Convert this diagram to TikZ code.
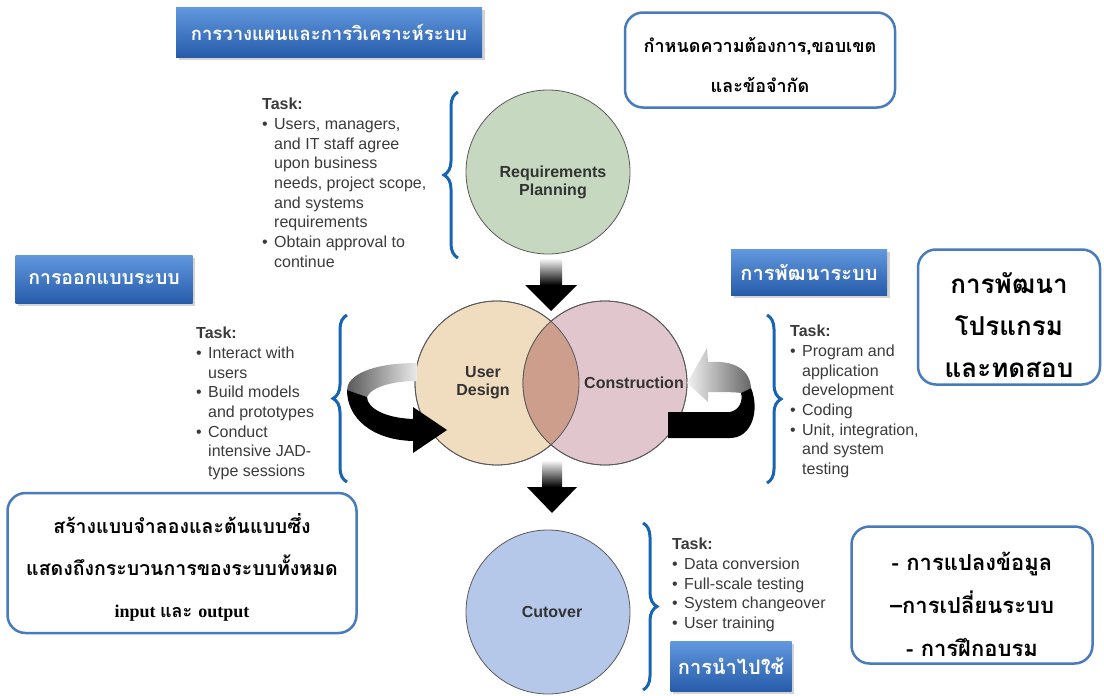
\documentclass[tikz,border=0pt]{standalone}
\usepackage{fontspec}
\setmainfont{Liberation Sans}
\newfontfamily\thaifont[Script=Thai]{Loma}
\newfontfamily\latinserif{Liberation Serif}
\usepackage{tikz}
\usetikzlibrary{arrows,%
                shapes,positioning,decorations.pathreplacing,shadows}

\definecolor{reqgreen}{RGB}{198,216,192}
\definecolor{udtan}{RGB}{240,220,190}
\definecolor{conpink}{RGB}{225,198,206}
\definecolor{lapbrown}{RGB}{205,158,140}
\definecolor{cutblue}{RGB}{182,200,234}
\definecolor{bracecol}{RGB}{22,100,180}
\definecolor{boxline}{RGB}{72,122,190}
\definecolor{tasktext}{RGB}{58,58,58}
\definecolor{lbltop}{RGB}{98,152,222}
\definecolor{lblbot}{RGB}{38,92,170}

\newcommand\tskb{\makebox[12pt][l]{\textbullet}}
\newcommand\tski{\hspace*{12pt}}

\begin{document}
\begin{tikzpicture}[x=1pt,y=-1pt,
  phase/.style={circle,draw=gray!70!black,line width=0.8pt,minimum size=164pt,inner sep=0pt},
  phasetext/.style={font=\fontsize{16}{18}\selectfont\bfseries,text=black!80,align=center},
  tasklist/.style={anchor=north west,inner sep=0pt,text=tasktext,align=left,font=\fontsize{16}{19.7}\selectfont},
  curly/.style={decorate,decoration={brace,amplitude=14pt},draw=bracecol,line width=3pt},
  thlabel/.style={top color=lbltop,bottom color=lblbot,drop shadow={opacity=0.35},text=white,inner sep=0pt,font=\thaifont\bfseries\fontsize{20}{24}\selectfont},
  thbox/.style={draw=boxline,line width=2.5pt,rounded corners=18pt,fill=white,inner sep=0pt},
  thtext/.style={align=center,inner sep=0pt,font=\thaifont\bfseries\fontsize{19.5}{42}\selectfont},
  bandgray/.style={left color=black!65,right color=black!8},
  bandblack/.style={fill=black}]
\useasboundingbox (0,0) rectangle (1104,696);

\node[phase,fill=reqgreen] (req) at (548,172) {};
\node[phase,fill=udtan] (ud) at (497,383) {};
\node[phase,fill=conpink] (con) at (605,383) {};
\node[phase,fill=cutblue] (cut) at (548,612) {};
\begin{scope}
\clip (ud.center) circle (82);
\fill[lapbrown] (con.center) circle (82);
\end{scope}
\draw[gray!70!black,line width=0.8pt] (ud.center) circle (82) (con.center) circle (82);

\node[phasetext] (reqlbl) at (553,182) {Requirements\\Planning};
\node[phasetext] (udlbl) at (483,383) {User\\Design};
\node[phasetext] (conlbl) at (634,383) {Construction};
\node[phasetext] (cutlbl) at (552,612) {Cutover};

\shade[top color=white,bottom color=black] (540,258) rectangle (562,285);
\fill (525,285) -- (577,285) -- (551,311) -- cycle;
\shade[top color=white,bottom color=black] (542,460) rectangle (562,487);
\fill (527,487) -- (577,487) -- (552,513) -- cycle;

\shade[bandgray] (417,363) .. controls (370,363) and (347,376) .. (347,390)
  -- (367,397) .. controls (372,386) and (395,381) .. (417,381) -- cycle;
\fill[bandblack] (347,390) .. controls (347,418) and (372,440) .. (413,441)
  -- (413,453) -- (447,430) -- (413,407) -- (413,419)
  .. controls (385,418) and (367,408) .. (367,397) -- cycle;

\shade[bandgray,left color=black!5,right color=black!60] (687,383) -- (707,348) -- (708,362)
  .. controls (735,360) and (750,370) .. (751,388) -- (741,393)
  .. controls (735,392) and (720,392) .. (708,392) -- (708,402) -- cycle;
\fill[bandblack] (741,393) -- (751,388) .. controls (760,410) and (752,438) .. (730,438)
  -- (668,438) -- (668,412) -- (730,412) .. controls (740,410) and (743,400) .. (741,393) -- cycle;

\draw[curly] (458,258) -- (458,92);
\draw[curly] (347,482) -- (347,315);
\draw[curly] (767,315) -- (767,483);
\draw[curly] (643,523) -- (643,690);

\node[tasklist] (reqtask) at (262,98) {\textbf{Task:}\\
  \tskb Users, managers,\\ \tski and IT staff agree\\ \tski upon business\\
  \tski needs, project scope,\\ \tski and systems\\ \tski requirements\\
  \tskb Obtain approval to\\ \tski continue};
\node[tasklist] (udtask) at (196,327) {\textbf{Task:}\\
  \tskb Interact with\\ \tski users\\ \tskb Build models\\ \tski and prototypes\\
  \tskb Conduct\\ \tski intensive JAD-\\ \tski type sessions};
\node[tasklist] (contask) at (790,325) {\textbf{Task:}\\
  \tskb Program and\\ \tski application\\ \tski development\\ \tskb Coding\\
  \tskb Unit, integration,\\ \tski and system\\ \tski testing};
\node[tasklist] (cuttask) at (672,538) {\textbf{Task:}\\
  \tskb Data conversion\\ \tskb Full-scale testing\\ \tskb System changeover\\
  \tskb User training};

\node[thlabel,minimum width=306pt,minimum height=50pt,font=\thaifont\bfseries\fontsize{18.5}{24}\selectfont] (planlbl) at (329,32) {การวางแผนและการวิเคราะห์ระบบ};
\node[thlabel,minimum width=177pt,minimum height=48pt,font=\thaifont\bfseries\fontsize{19.5}{24}\selectfont] (designlbl) at (104,279) {การออกแบบระบบ};
\node[thlabel,minimum width=156pt,minimum height=46pt] (buildlbl) at (809,272) {การพัฒนาระบบ};
\node[thlabel,minimum width=121pt,minimum height=50pt] (uselbl) at (731,666) {การนำไปใช้};

\node[thbox,minimum width=270pt,minimum height=95pt] (reqbox) at (760,60) {};
\node[thtext,font=\thaifont\bfseries\fontsize{18}{40}\selectfont] (reqtxt) at (760,65)
  {กำหนดความต้องการ,ขอบเขต\\และข้อจำกัด};
\node[thbox,minimum width=182pt,minimum height=135pt] (buildbox) at (1009,317) {};
\node[thtext,font=\thaifont\bfseries\fontsize{26}{42}\selectfont] (buildtxt) at (1009,325)
  {การพัฒนา\\โปรแกรม\\และทดสอบ};
\node[thbox,minimum width=349pt,minimum height=140pt] (designbox) at (182,563) {};
\node[thtext] (designtxt) at (182,567)
  {สร้างแบบจำลองและต้นแบบซึ่ง\\แสดงถึงกระบวนการของระบบทั้งหมด\\
  {\fontsize{18}{18}\selectfont\latinserif\bfseries input \thaifont และ \latinserif output}};
\node[thbox,minimum width=241pt,minimum height=137pt] (usebox) at (972,595) {};
\node[thtext,font=\thaifont\bfseries\fontsize{22}{43}\selectfont] (usetxt) at (972,604)
  {- การแปลงข้อมูล\\–การเปลี่ยนระบบ\\- การฝึกอบรม};
\end{tikzpicture}
\end{document}
